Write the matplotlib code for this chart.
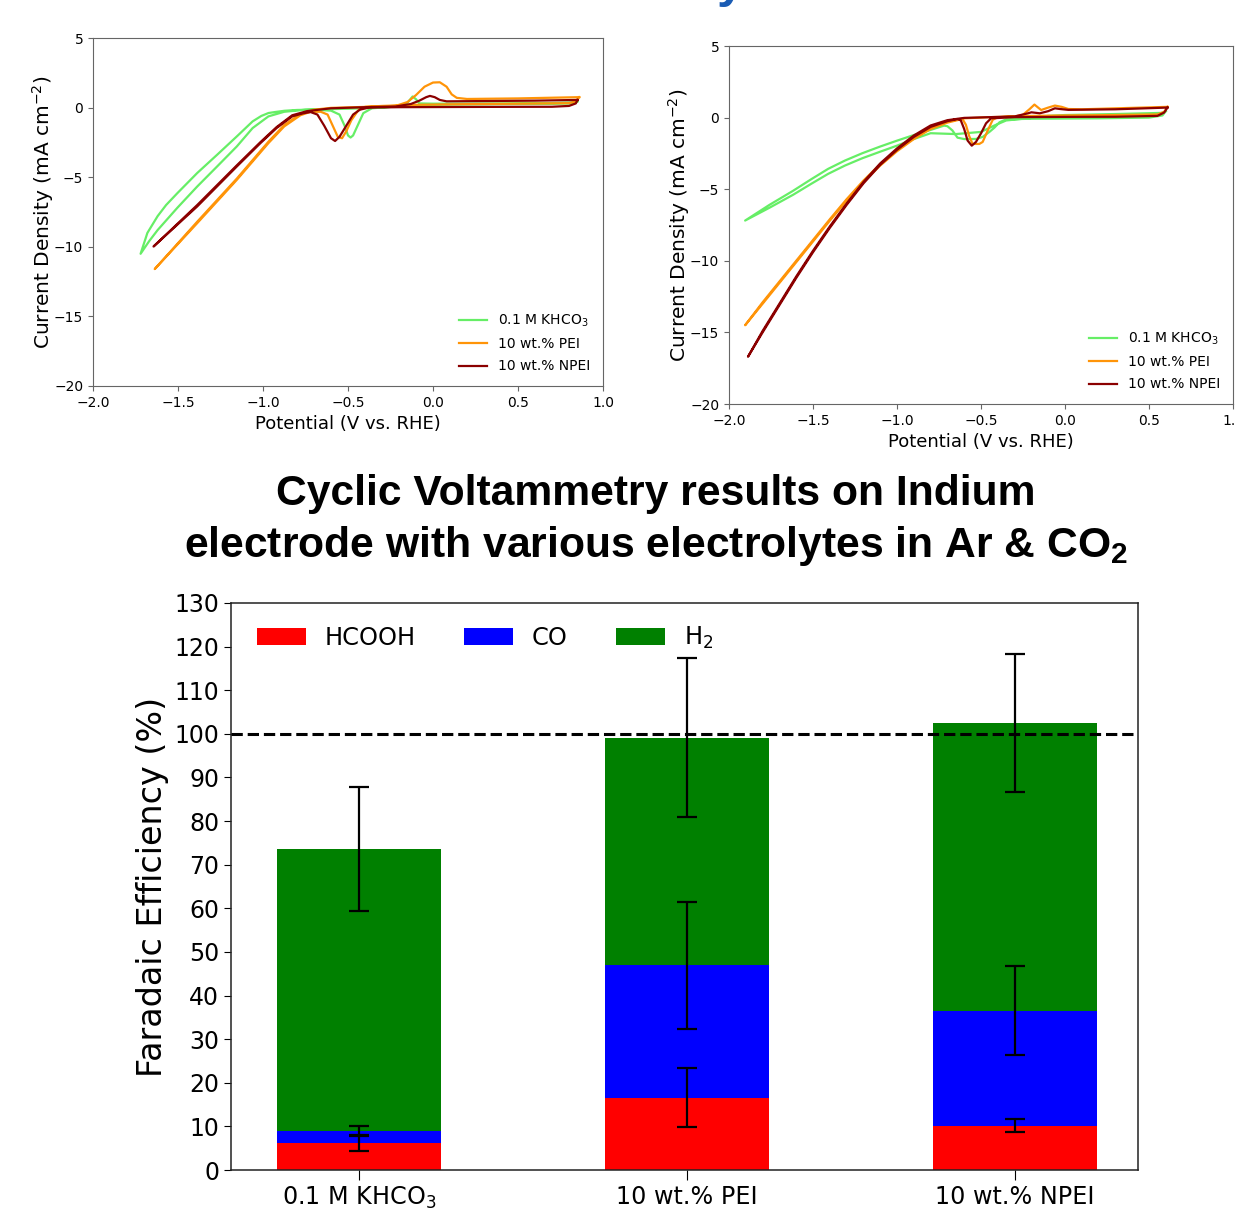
import matplotlib.pyplot as plt
import numpy as np

plt.rcParams['font.family'] = 'DejaVu Sans'
plt.rcParams['mathtext.fontset'] = 'dejavusans'
# custom math fonts are only used by the bold heading
plt.rcParams['mathtext.rm'] = 'Liberation Sans'
plt.rcParams['mathtext.bf'] = 'Liberation Sans:bold'

# ---- cyclic voltammograms: (potential V vs RHE, current density mA/cm2)
# each list runs from the positive vertex, cathodic sweep, then back
labels_cv = ['0.1 M KHCO$_3$', '10 wt.% PEI', '10 wt.% NPEI']
colors_cv = ['#66ee66', '#ff9408', '#8b0000']

panel_a_khco3 = [
    (0.85, 0.45), (0.82, 0.3), (0.7, 0.27), (0.4, 0.25), (0.1, 0.22), (-0.1, 0.18),
    (-0.25, 0.05), (-0.36, -0.05), (-0.41, -0.4), (-0.44, -1.2), (-0.47, -2.0),
    (-0.485, -2.15), (-0.5, -2.0), (-0.52, -1.3), (-0.55, -0.5), (-0.6, -0.22),
    (-0.7, -0.15), (-0.8, -0.17), (-0.875, -0.23), (-0.93, -0.32), (-0.968, -0.39),
    (-1.01, -0.6), (-1.061, -0.99), (-1.154, -2.07), (-1.27, -3.39), (-1.387, -4.7),
    (-1.504, -6.15), (-1.57, -7.0), (-1.62, -7.8), (-1.68, -9.0), (-1.72, -10.5),
    (-1.67, -9.6), (-1.62, -8.8), (-1.504, -7.2), (-1.387, -5.67), (-1.27, -4.23),
    (-1.154, -2.79), (-1.061, -1.47), (-0.968, -0.63), (-0.875, -0.3), (-0.75, -0.15),
    (-0.5, -0.08), (-0.3, 0.0), (-0.2, 0.1), (-0.15, 0.35), (-0.12, 0.8), (-0.1, 0.6),
    (-0.08, 0.3), (0.0, 0.28), (0.4, 0.3), (0.7, 0.33), (0.83, 0.38), (0.85, 0.45),
]
panel_a_pei = [
    (0.86, 0.75), (0.84, 0.45), (0.8, 0.32), (0.5, 0.28), (0.2, 0.25), (-0.1, 0.2),
    (-0.3, 0.12), (-0.4, 0.05), (-0.44, -0.2), (-0.48, -0.9), (-0.51, -1.7),
    (-0.535, -2.2), (-0.56, -2.1), (-0.59, -1.3), (-0.62, -0.5), (-0.66, -0.3),
    (-0.72, -0.3), (-0.78, -0.55), (-0.875, -1.35), (-0.968, -2.55), (-1.154, -5.19),
    (-1.387, -8.3), (-1.637, -11.6),
    (-1.387, -8.2), (-1.154, -5.1), (-0.968, -2.45), (-0.875, -1.25), (-0.78, -0.45),
    (-0.7, -0.15), (-0.6, -0.02), (-0.4, 0.05), (-0.22, 0.12), (-0.15, 0.4), (-0.1, 0.9),
    (-0.05, 1.5), (0.0, 1.8), (0.04, 1.82), (0.08, 1.5), (0.11, 0.95), (0.14, 0.7),
    (0.2, 0.62), (0.5, 0.66), (0.86, 0.75),
]
panel_a_npei = [
    (0.85, 0.55), (0.84, 0.3), (0.8, 0.12), (0.7, 0.06), (0.3, 0.05), (-0.2, 0.03),
    (-0.38, 0.0), (-0.43, -0.15), (-0.47, -0.5), (-0.51, -1.3), (-0.55, -2.1),
    (-0.576, -2.4), (-0.6, -2.2), (-0.64, -1.3), (-0.68, -0.5), (-0.72, -0.32),
    (-0.76, -0.4), (-0.828, -0.63), (-0.92, -1.47), (-1.015, -2.55), (-1.154, -4.23),
    (-1.387, -7.1), (-1.644, -9.98),
    (-1.387, -7.0), (-1.154, -4.15), (-1.015, -2.48), (-0.92, -1.4), (-0.828, -0.55),
    (-0.74, -0.25), (-0.6, -0.05), (-0.4, 0.03), (-0.22, 0.08), (-0.13, 0.26),
    (-0.08, 0.5), (-0.04, 0.75), (-0.018, 0.84), (0.01, 0.75), (0.04, 0.55),
    (0.08, 0.45), (0.3, 0.47), (0.6, 0.5), (0.85, 0.55),
]

panel_b_khco3 = [
    (0.6, 0.45), (0.58, 0.15), (0.5, 0.0), (0.2, -0.05), (-0.2, -0.08), (-0.35, -0.12),
    (-0.39, -0.33), (-0.42, -0.7), (-0.45, -1.0), (-0.49, -1.35), (-0.53, -1.49),
    (-0.6, -1.5), (-0.64, -1.4), (-0.67, -0.9), (-0.7, -0.6), (-0.72, -0.56),
    (-0.8, -0.86), (-0.9, -1.22), (-1.0, -1.61), (-1.1, -2.02), (-1.207, -2.49),
    (-1.31, -3.0), (-1.41, -3.58), (-1.51, -4.3), (-1.617, -5.1), (-1.76, -6.1),
    (-1.904, -7.19),
    (-1.76, -6.3), (-1.617, -5.38), (-1.51, -4.62), (-1.41, -3.93), (-1.31, -3.35),
    (-1.207, -2.84), (-1.1, -2.38), (-1.0, -1.96), (-0.9, -1.5), (-0.8, -1.09),
    (-0.65, -1.15), (-0.5, -1.0), (-0.42, -0.55), (-0.35, -0.2), (-0.2, -0.02),
    (-0.1, 0.12), (0.0, 0.18), (0.3, 0.25), (0.58, 0.33), (0.6, 0.45),
]
panel_b_pei = [
    (0.61, 0.75), (0.59, 0.4), (0.55, 0.22), (0.3, 0.18), (0.0, 0.15), (-0.3, 0.1),
    (-0.4, 0.02), (-0.43, -0.15), (-0.46, -0.9), (-0.49, -1.7), (-0.51, -1.84),
    (-0.55, -1.84), (-0.57, -1.3), (-0.59, -0.5), (-0.61, -0.1), (-0.62, -0.12),
    (-0.7, -0.35), (-0.8, -0.8), (-0.9, -1.5), (-1.0, -2.35), (-1.1, -3.35),
    (-1.2, -4.5), (-1.3, -5.8), (-1.4, -7.2), (-1.5, -8.65), (-1.6, -10.1),
    (-1.7, -11.55), (-1.8, -13.0), (-1.904, -14.5),
    (-1.8, -12.9), (-1.7, -11.45), (-1.6, -10.0), (-1.5, -8.55), (-1.4, -7.1),
    (-1.3, -5.7), (-1.2, -4.4), (-1.1, -3.25), (-1.0, -2.25), (-0.9, -1.4),
    (-0.8, -0.7), (-0.7, -0.27), (-0.6, -0.05), (-0.45, 0.03), (-0.3, 0.08),
    (-0.25, 0.2), (-0.21, 0.6), (-0.182, 0.91), (-0.16, 0.7), (-0.142, 0.53),
    (-0.1, 0.7), (-0.06, 0.84), (-0.02, 0.75), (0.02, 0.6), (0.1, 0.58), (0.4, 0.68),
    (0.61, 0.75),
]
panel_b_npei = [
    (0.61, 0.7), (0.59, 0.35), (0.55, 0.12), (0.3, 0.06), (0.0, 0.05), (-0.3, 0.03),
    (-0.44, -0.05), (-0.47, -0.4), (-0.5, -1.1), (-0.53, -1.7), (-0.555, -1.96),
    (-0.58, -1.6), (-0.6, -0.8), (-0.62, -0.2), (-0.64, -0.1), (-0.7, -0.25),
    (-0.8, -0.65), (-0.9, -1.35), (-1.0, -2.25), (-1.1, -3.3), (-1.2, -4.6),
    (-1.3, -6.1), (-1.4, -7.7), (-1.5, -9.4), (-1.6, -11.2), (-1.7, -13.1),
    (-1.8, -15.0), (-1.887, -16.7),
    (-1.8, -14.9), (-1.7, -13.0), (-1.6, -11.1), (-1.5, -9.3), (-1.4, -7.6),
    (-1.3, -6.0), (-1.2, -4.5), (-1.1, -3.2), (-1.0, -2.15), (-0.9, -1.25),
    (-0.8, -0.55), (-0.7, -0.18), (-0.6, -0.02), (-0.45, 0.03), (-0.3, 0.08),
    (-0.22, 0.3), (-0.2, 0.37), (-0.15, 0.3), (-0.1, 0.45), (-0.06, 0.65),
    (-0.03, 0.6), (0.02, 0.54), (0.3, 0.58), (0.61, 0.7),
]

# ---- Faradaic efficiency (%) per electrolyte
categories = ['0.1 M KHCO$_3$', '10 wt.% PEI', '10 wt.% NPEI']
hcooh = np.array([6.1, 16.6, 10.2])
hcooh_err = np.array([1.7, 6.7, 1.4])
co = np.array([2.9, 30.3, 26.3])
co_err = np.array([1.0, 14.6, 10.2])
h2 = np.array([64.6, 52.2, 65.9])
h2_err = np.array([14.2, 18.2, 15.8])

W, H = 1235, 1219
fig = plt.figure(figsize=(W / 100, H / 100), dpi=100)


def px_axes(left, top, right, bottom):
    return fig.add_axes([left / W, 1 - bottom / H, (right - left) / W, (bottom - top) / H])


def draw_cv(ax, curves):
    for pts, lab, col in zip(curves, labels_cv, colors_cv):
        v, j = np.array(pts).T
        ax.plot(v, j, color=col, lw=1.6, label=lab)
    ax.set_xlim(-2, 1)
    ax.set_ylim(-20, 5)
    ax.set_xticks(np.arange(-2, 1.01, 0.5))
    ax.set_yticks(np.arange(-20, 6, 5))
    ax.tick_params(labelsize=10, length=3.5, color='#666666')
    for s in ax.spines.values():
        s.set_color('#666666')
    ax.set_xlabel('Potential (V vs. RHE)', fontsize=13, labelpad=4)
    ax.set_ylabel('Current Density (mA cm$^{-2}$)', fontsize=14.5, labelpad=-1.5)
    ax.legend(loc='lower right', frameon=False, fontsize=10, labelspacing=0.6)


ax1 = px_axes(93, 38, 603, 386)
draw_cv(ax1, [panel_a_khco3, panel_a_pei, panel_a_npei])
ax2 = px_axes(729, 46, 1233, 404)
draw_cv(ax2, [panel_b_khco3, panel_b_pei, panel_b_npei])

# heading between the panels
fig.text(656 / W, 1 - 505 / H, 'Cyclic Voltammetry results on Indium',
         ha='center', va='baseline', fontsize=30.7, fontweight='bold',
         family='Liberation Sans')
fig.text(656 / W, 1 - 557 / H, r'electrode with various electrolytes in Ar & CO$_\mathbf{2}$',
         ha='center', va='baseline', fontsize=30.7, fontweight='bold',
         family='Liberation Sans', math_fontfamily='custom')
fig.text(717 / W, 1 + 3 / H, 'y', ha='left', va='baseline', fontsize=36,
         fontweight='bold', color='#1a5cb4', family='Liberation Sans')

# stacked Faradaic efficiency bars
ax3 = px_axes(231, 603, 1138, 1170)
x = np.arange(len(categories))
bw = 0.5
ax3.bar(x, hcooh, bw, color='#ff0000', label='HCOOH')
ax3.bar(x, co, bw, bottom=hcooh, color='#0000ff', label='CO')
ax3.bar(x, h2, bw, bottom=hcooh + co, color='#008000', label='H$_2$')

tops = [hcooh, hcooh + co, hcooh + co + h2]
errs = [hcooh_err, co_err, h2_err]
for t, e in zip(tops, errs):
    ax3.errorbar(x, t, yerr=e, fmt='none', ecolor='black', elinewidth=1.6,
                 capsize=7, capthick=1.6, zorder=5)

ax3.axhline(100, color='black', ls='--', lw=2.2, zorder=4)
ax3.set_xlim(-0.39, 2.375)
ax3.set_ylim(0, 130)
ax3.set_yticks(np.arange(0, 131, 10))
ax3.set_xticks(x)
ax3.set_xticklabels(categories)
ax3.tick_params(axis='y', labelsize=17, length=5)
ax3.tick_params(axis='x', labelsize=17.2, length=7)
for s in ax3.spines.values():
    s.set_color('#222222')
    s.set_linewidth(1.1)
ax3.set_ylabel('Faradaic Efficiency (%)', fontsize=24, labelpad=4)
ax3.legend(loc='upper left', bbox_to_anchor=(0.005, 1.0), ncol=3, frameon=False,
           fontsize=17.4, handlelength=2, columnspacing=2)

fig.savefig('out.png', dpi=100)
